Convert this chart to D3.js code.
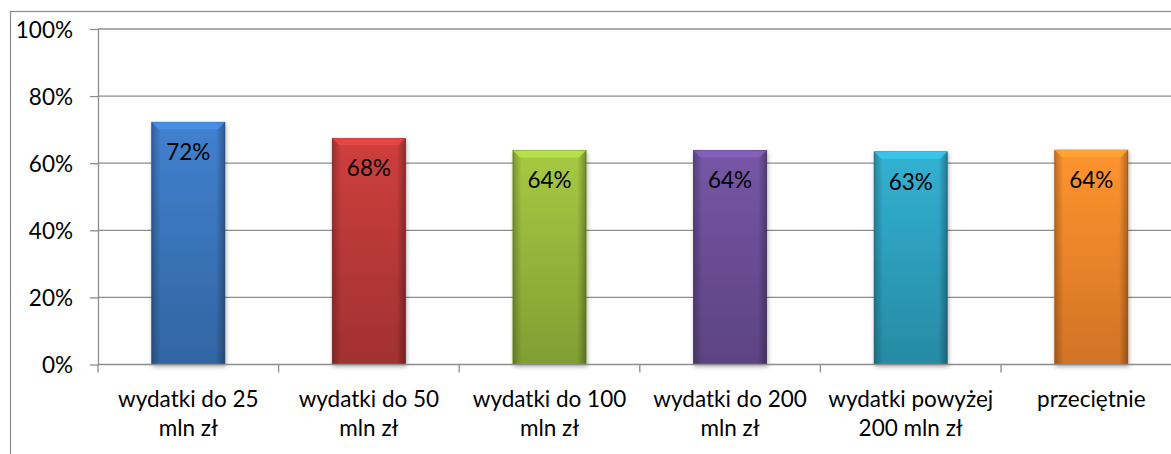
<!DOCTYPE html>
<html><head><meta charset="utf-8">
<script src="https://cdn.jsdelivr.net/npm/d3@7"></script>
<style>body{margin:0;background:#fff}svg{display:block}</style>
</head><body>
<svg id="c" width="1171" height="454"></svg>
<script>
const categories = ["wydatki do 25\nmln zł","wydatki do 50\nmln zł","wydatki do 100\nmln zł","wydatki do 200\nmln zł","wydatki powyżej\n200 mln zł","przeciętnie"];
const values = [0.722, 0.674, 0.638, 0.638, 0.634, 0.639];
const labels = ["72%","68%","64%","64%","63%","64%"];
const yTicks = [0, 0.2, 0.4, 0.6, 0.8, 1.0];
const colors = ["#3b76bd","#bd3a39","#97b93c","#6c4f98","#2ea2c0","#f5872b"];

const svg = d3.select("#c");
const FONT = "Lato, 'Open Sans', sans-serif";
const FS = 22.5;
const m = {left:98, top:29, bottom:364.5};
const plotW = 180.6*6;
const x = d3.scaleBand().domain(categories).range([m.left, m.left+plotW]).paddingInner(0.595).paddingOuter(0.2975);
const y = d3.scaleLinear().domain([0,1]).range([m.bottom, m.top]);

// outer border
svg.append("rect").attr("x",10.5).attr("y",11.5).attr("width",1200).attr("height",500)
  .attr("fill","none").attr("stroke","#8a8a8a").attr("stroke-width",1.2);

// gridlines
svg.append("g").selectAll("line").data(yTicks.slice(1)).join("line")
  .attr("x1",m.left).attr("x2",1180).attr("y1",d=>y(d)).attr("y2",d=>y(d))
  .attr("stroke","#8c8c8c").attr("stroke-width",1.3);

// gradients
const defs = svg.append("defs");
colors.forEach((c,i)=>{
  const g = defs.append("linearGradient").attr("id","g"+i).attr("x1",0).attr("y1",0).attr("x2",0).attr("y2",1);
  g.append("stop").attr("offset","0%").attr("stop-color",d3.color(c).brighter(0.25));
  g.append("stop").attr("offset","100%").attr("stop-color",d3.color(c).darker(0.45));
  const h = defs.append("linearGradient").attr("id","h"+i).attr("x1",0).attr("y1",0).attr("x2",1).attr("y2",0);
  h.append("stop").attr("offset","0%").attr("stop-color","#000").attr("stop-opacity",0.25);
  h.append("stop").attr("offset","12%").attr("stop-color","#000").attr("stop-opacity",0);
  h.append("stop").attr("offset","88%").attr("stop-color","#000").attr("stop-opacity",0);
  h.append("stop").attr("offset","100%").attr("stop-color","#000").attr("stop-opacity",0.3);
});
const flt = defs.append("filter").attr("id","sh").attr("x","-20%").attr("y","-10%").attr("width","140%").attr("height","130%");
flt.append("feDropShadow").attr("dx",1).attr("dy",2).attr("stdDeviation",2).attr("flood-color","#000").attr("flood-opacity",0.3);

const bars = svg.append("g").selectAll("g").data(categories).join("g");
bars.append("rect").attr("x",d=>x(d)).attr("y",(d,i)=>y(values[i])).attr("width",x.bandwidth())
  .attr("height",(d,i)=>y(0)-y(values[i])).attr("fill",(d,i)=>`url(#g${i})`)
  .attr("stroke",(d,i)=>d3.color(colors[i]).darker(0.8)).attr("stroke-width",0.8).attr("filter","url(#sh)");
bars.append("rect").attr("x",d=>x(d)).attr("y",(d,i)=>y(values[i])).attr("width",x.bandwidth())
  .attr("height",(d,i)=>y(0)-y(values[i])).attr("fill",(d,i)=>`url(#h${i})`);
// top bevel
const bev = 7;
bars.append("path").attr("d",(d,i)=>{
  const x0=x(d), x1=x(d)+x.bandwidth(), t=y(values[i]);
  return `M${x0},${t}L${x1},${t}L${x1-bev},${t+bev}L${x0+bev},${t+bev}Z`;
}).attr("fill",(d,i)=>d3.color(colors[i]).brighter(0.6)).attr("opacity",0.85);

// value labels
bars.append("text").attr("x",d=>x(d)+x.bandwidth()/2).attr("y",(d,i)=>y(values[i])+38)
  .attr("text-anchor","middle").attr("font-family",FONT).attr("font-size",FS).attr("fill","#000")
  .text((d,i)=>labels[i]);

// y axis
const ya = svg.append("g").attr("transform",`translate(${m.left},0)`)
  .call(d3.axisLeft(y).tickValues(yTicks).tickFormat(d3.format(".0%")).tickSize(8).tickSizeOuter(0));
ya.select(".domain").attr("stroke","#8c8c8c").attr("stroke-width",1.3);
ya.selectAll(".tick line").attr("stroke","#8c8c8c").attr("stroke-width",1.3);
ya.selectAll("text").attr("font-family",FONT).attr("font-size",FS).attr("fill","#000").attr("dx",-14).attr("dy","0.36em");

// x axis
const xa = svg.append("g").attr("transform",`translate(0,${m.bottom})`)
  .call(d3.axisBottom(x).tickSize(0).tickSizeOuter(0));
xa.select(".domain").remove();
svg.append("line").attr("x1",m.left).attr("x2",1180).attr("y1",m.bottom).attr("y2",m.bottom)
  .attr("stroke","#8c8c8c").attr("stroke-width",1.3);
const bounds = d3.range(categories.length+1).map(i=>m.left+i*x.step());
svg.append("g").selectAll("line").data(bounds).join("line")
  .attr("x1",d=>d).attr("x2",d=>d).attr("y1",m.bottom).attr("y2",m.bottom+8)
  .attr("stroke","#8c8c8c").attr("stroke-width",1.3);
xa.selectAll(".tick text").each(function(d){
  const t = d3.select(this); t.text(null).attr("font-family",FONT).attr("font-size",FS).attr("fill","#000").attr("y",0).attr("dy",0);
  d.split("\n").forEach((l,k)=>t.append("tspan").attr("x",0).attr("y",42+k*29).text(l));
});
</script>
</body></html>
